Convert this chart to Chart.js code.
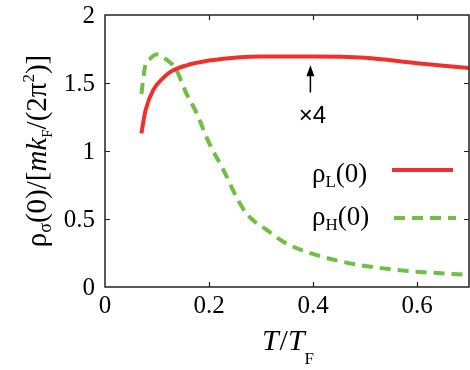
<!DOCTYPE html>
<html>
<head>
<meta charset="utf-8">
<script src="https://cdn.jsdelivr.net/npm/chart.js@4"></script>
<style>
html,body{margin:0;padding:0;background:#fff;}
</style>
</head>
<body>
<canvas id="c" width="470" height="370" style="display:block"></canvas>
<script>
// ---- data ----
const tL   = [0.070, 0.078, 0.093, 0.110, 0.125, 0.157, 0.200, 0.260, 0.300, 0.400, 0.500, 0.600, 0.700];
const rhoL = [1.13, 1.30, 1.45, 1.53, 1.58, 1.63, 1.665, 1.69, 1.695, 1.695, 1.685, 1.645, 1.61];

const tH   = [0.070, 0.077, 0.087, 0.099, 0.119, 0.135, 0.157, 0.176, 0.200, 0.228, 0.253, 0.272, 0.311, 0.349, 0.407, 0.471, 0.535, 0.599, 0.700];
const rhoH = [1.42, 1.62, 1.68, 1.71, 1.67, 1.61, 1.42, 1.28, 1.06, 0.86, 0.66, 0.54, 0.42, 0.32, 0.235, 0.174, 0.137, 0.113, 0.088];

const xTickValues = [0, 0.2, 0.4, 0.6];
const xTickLabels = ['0', '0.2', '0.4', '0.6'];
const yTickValues = [0, 0.5, 1, 1.5, 2];
const yTickLabels = ['0', '0.5', '1', '1.5', '2'];

// annotation: arrow at T, from value to value, and label
const arrowT = 0.395;
const arrowFrom = 1.43;
const arrowTo = 1.63;
const arrowLabel = '×4';

const RED = 'rgb(240,48,44)';
const GREEN = 'rgb(112,190,68)';
const SERIF = "'Liberation Serif'";
const SANS = "'Liberation Sans'";
const BASE = 20; // font is requested at this size and scaled to the wanted size

function setF(ctx, size, style, fam) {
  ctx.font = (style ? style + ' ' : '') + BASE + 'px ' + (fam || SERIF);
  return size / BASE;
}
function textW(ctx, s) {
  const k = setF(ctx, s.size, s.style, s.fam);
  return ctx.measureText(s.text).width * k;
}
function drawSeg(ctx, s, x, y) {
  const k = setF(ctx, s.size, s.style, s.fam);
  ctx.save();
  ctx.translate(x, y);
  ctx.scale(k, k);
  ctx.fillText(s.text, 0, 0);
  ctx.restore();
}
function drawRich(ctx, segs, x, y, align) {
  ctx.textBaseline = 'alphabetic';
  ctx.textAlign = 'left';
  let w = 0;
  for (const s of segs) w += textW(ctx, s) + (s.kern || 0);
  let cx = align === 'center' ? x - w / 2 : align === 'right' ? x - w : x;
  for (const s of segs) {
    drawSeg(ctx, s, cx, y + (s.dy || 0));
    cx += textW(ctx, s) + (s.kern || 0);
  }
  return w;
}

const decor = {
  id: 'decor',
  afterDraw(chart) {
    const ctx = chart.ctx;
    const a = chart.chartArea;
    const xs = chart.scales.x, ys = chart.scales.y;
    ctx.save();
    // frame
    ctx.strokeStyle = '#222';
    ctx.lineWidth = 1.5;
    ctx.strokeRect(a.left, a.top, a.right - a.left, a.bottom - a.top);
    // inward ticks
    ctx.lineWidth = 1.2;
    ctx.beginPath();
    for (const v of xTickValues) {
      if (v === 0) continue;
      const px = Math.round(xs.getPixelForValue(v)) + 0.5;
      ctx.moveTo(px, a.bottom); ctx.lineTo(px, a.bottom - 5);
      ctx.moveTo(px, a.top); ctx.lineTo(px, a.top + 5);
    }
    for (const v of yTickValues) {
      if (v === 0 || v === 2) continue;
      const py = Math.round(ys.getPixelForValue(v)) + 0.5;
      ctx.moveTo(a.left, py); ctx.lineTo(a.left + 5, py);
      ctx.moveTo(a.right, py); ctx.lineTo(a.right - 5, py);
    }
    ctx.stroke();

    ctx.fillStyle = '#000';
    // tick labels
    xTickValues.forEach((v, i) => {
      drawRich(ctx, [{text: xTickLabels[i], size: 25}], xs.getPixelForValue(v), a.bottom + 26, 'center');
    });
    yTickValues.forEach((v, i) => {
      drawRich(ctx, [{text: yTickLabels[i], size: 25}], a.left - 10, ys.getPixelForValue(v) + 8, 'right');
    });

    // arrow
    const ax = xs.getPixelForValue(arrowT);
    const ay0 = ys.getPixelForValue(arrowFrom), ay1 = ys.getPixelForValue(arrowTo);
    ctx.strokeStyle = '#000';
    ctx.lineWidth = 1.5;
    ctx.beginPath(); ctx.moveTo(ax, ay0); ctx.lineTo(ax, ay1 + 6); ctx.stroke();
    ctx.beginPath(); ctx.moveTo(ax, ay1); ctx.lineTo(ax - 4, ay1 + 11); ctx.lineTo(ax + 4, ay1 + 11); ctx.closePath(); ctx.fill();
    drawRich(ctx, [{text: arrowLabel, size: 24, fam: SANS}], ax + 2, ay0 + 30, 'center');

    // legend
    drawRich(ctx, [{text:'ρ', size: 27}, {text:'L', size: 17, dy: 5}, {text:'(0)', size: 27}], 312, 182);
    drawRich(ctx, [{text:'ρ', size: 27}, {text:'H', size: 17, dy: 5}, {text:'(0)', size: 27}], 312, 225);
    ctx.lineWidth = 4;
    ctx.strokeStyle = RED;
    ctx.beginPath(); ctx.moveTo(392, 170); ctx.lineTo(453, 170); ctx.stroke();
    ctx.strokeStyle = GREEN;
    ctx.setLineDash([11, 7]);
    ctx.beginPath(); ctx.moveTo(394, 218); ctx.lineTo(456, 218); ctx.stroke();
    ctx.setLineDash([]);

    // x title
    drawRich(ctx, [
      {text:'T', size: 30, style: 'italic', kern: 1}, {text:'/', size: 30},
      {text:'T', size: 30, style: 'italic'}, {text:'F', size: 17, dy: 14}
    ], 288, 350, 'center');

    // y title (rotated)
    ctx.save();
    ctx.translate(46, 151);
    ctx.rotate(-Math.PI / 2);
    drawRich(ctx, [
      {text:'ρ', size: 29}, {text:'σ', size: 18, dy: 5},
      {text:'(0)/[', size: 29}, {text:'mk', size: 29, style: 'italic'}, {text:'F', size: 15, dy: 6},
      {text:'/(2π', size: 29}, {text:'2', size: 17, dy: -12}, {text:')]', size: 29}
    ], 0, 0, 'center');
    ctx.restore();
    ctx.restore();
  }
};

const chart = new Chart(document.getElementById('c'), {
  type: 'line',
  data: {
    datasets: [
      { label: 'rhoL', data: tL.map((t, i) => ({x: t, y: rhoL[i]})), borderColor: RED, borderWidth: 4,
        pointRadius: 0, cubicInterpolationMode: 'monotone', fill: false },
      { label: 'rhoH', data: tH.map((t, i) => ({x: t, y: rhoH[i]})), borderColor: GREEN, borderWidth: 4,
        borderDash: [11, 7], pointRadius: 0, cubicInterpolationMode: 'monotone', fill: false }
    ]
  },
  options: {
    responsive: false,
    animation: false,
    layout: { padding: { top: 15, right: 1, left: 0, bottom: 0 } },
    plugins: { legend: { display: false }, tooltip: { enabled: false } },
    scales: {
      x: {
        type: 'linear', min: 0, max: 0.7,
        grid: { display: false, drawTicks: false }, border: { display: false },
        afterBuildTicks: s => { s.ticks = xTickValues.map(v => ({value: v})); },
        afterFit: s => { s.height = 83; },
        ticks: { display: false }
      },
      y: {
        type: 'linear', min: 0, max: 2,
        grid: { display: false, drawTicks: false }, border: { display: false },
        afterBuildTicks: s => { s.ticks = yTickValues.map(v => ({value: v})); },
        afterFit: s => { s.width = 105; },
        ticks: { display: false }
      }
    }
  },
  plugins: [decor]
});
setTimeout(() => chart.draw(), 80);
setTimeout(() => chart.draw(), 300);
</script>
</body>
</html>
